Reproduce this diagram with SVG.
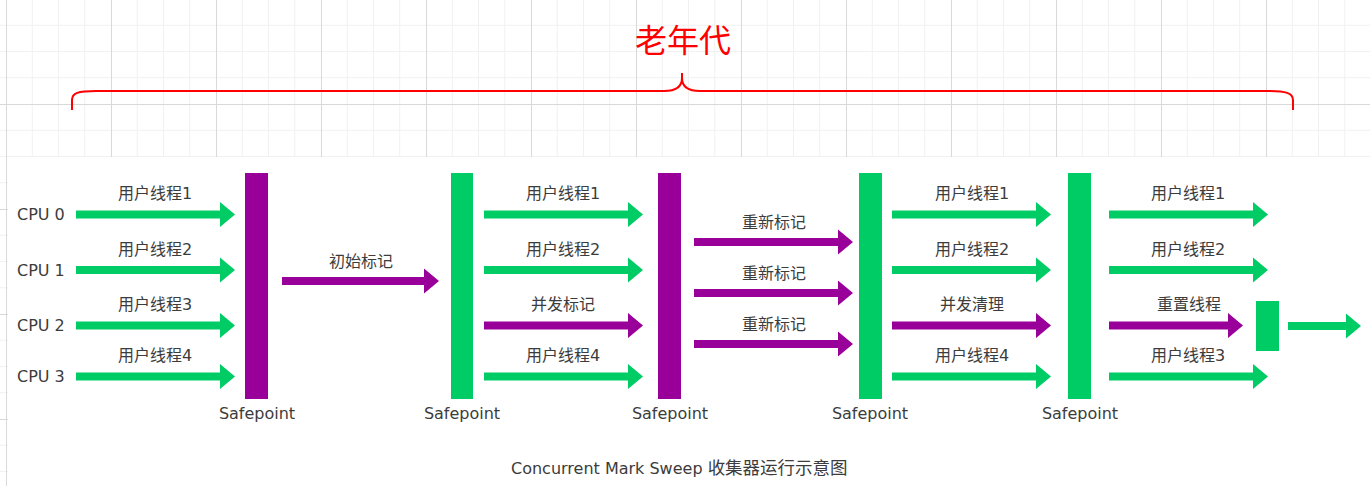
<svg xmlns="http://www.w3.org/2000/svg" xmlns:xlink="http://www.w3.org/1999/xlink" width="1370" height="486" viewBox="0 0 1370 486">
<style>
text{font-family:"DejaVu Sans","Noto Sans CJK SC",sans-serif;fill:#3c3c3c;}
.lbl{font-size:16px;text-anchor:middle;}
.cpu{font-size:16px;}
.sp{font-size:16px;text-anchor:middle;}
.g{fill:#00CC66;}
.p{fill:#990099;}
.title{font-size:16px;}
.cjk{font-size:17.5px;}
.old{font-size:32px;fill:#FF0000;text-anchor:middle;font-family:"Noto Sans CJK SC",sans-serif;}
</style>
<defs>
<pattern id="grid" x="6" y="-1" width="105" height="105" patternUnits="userSpaceOnUse">
<path d="M26.25 0V105M52.5 0V105M78.75 0V105M0 26.25H105M0 52.5H105M0 78.75H105" stroke="#f1f1f1" stroke-width="1" fill="none"/>
<path d="M0.5 0V105M0 0.5H105" stroke="#d9d9d9" stroke-width="1" fill="none"/>
</pattern>
<path id="a159" d="M0,-4H144V-12.5L159,0L144,12.5V4H0Z"/>
<path id="a157" d="M0,-4H142V-12.5L157,0L142,12.5V4H0Z"/>
<path id="a134" d="M0,-4H119V-12.5L134,0L119,12.5V4H0Z"/>
<path id="a73" d="M0,-4H58V-12.5L73,0L58,12.5V4H0Z"/>
</defs>
<rect x="0" y="0" width="1370" height="486" fill="#ffffff"/>
<rect x="0" y="0" width="1370" height="486" fill="url(#grid)"/>
<rect x="8" y="157" width="1362" height="329" fill="#ffffff"/>

<g id="old-gen">
<path d="M72,110V100C72,93 78,91 96,91H664Q682,91 682,78V73M682,78Q682,91 700,91H1267C1286,91 1293,93 1293,100V110" fill="none" stroke="#FF0000" stroke-width="2"/>
<text class="old" x="683" y="52">老年代</text>
</g>

<g id="cpus">
<text class="cpu" x="17" y="220">CPU 0</text>
<text class="cpu" x="17" y="275.5">CPU 1</text>
<text class="cpu" x="17" y="331">CPU 2</text>
<text class="cpu" x="17" y="382">CPU 3</text>
</g>

<g id="safepoint1"><rect class="p" x="245" y="173" width="23" height="226"/><text class="sp" x="257" y="419">Safepoint</text></g>
<g id="safepoint2"><rect class="g" x="451" y="173" width="22" height="226"/><text class="sp" x="462" y="419">Safepoint</text></g>
<g id="safepoint3"><rect class="p" x="658" y="173" width="23" height="226"/><text class="sp" x="670" y="419">Safepoint</text></g>
<g id="safepoint4"><rect class="g" x="859" y="173" width="23" height="226"/><text class="sp" x="870" y="419">Safepoint</text></g>
<g id="safepoint5"><rect class="g" x="1068" y="173" width="23" height="226"/><text class="sp" x="1080" y="419">Safepoint</text></g>
<g id="reset-block"><rect class="g" x="1256" y="301" width="23" height="50"/></g>

<g id="connectors">
<use xlink:href="#a159" class="g" x="76" y="214.5"/>
<use xlink:href="#a159" class="g" x="76" y="270"/>
<use xlink:href="#a159" class="g" x="76" y="325.5"/>
<use xlink:href="#a159" class="g" x="76" y="376.5"/>
<use xlink:href="#a157" class="p" x="282" y="281"/>
<use xlink:href="#a159" class="g" x="484" y="214.5"/>
<use xlink:href="#a159" class="g" x="484" y="270"/>
<use xlink:href="#a159" class="p" x="484" y="325.5"/>
<use xlink:href="#a159" class="g" x="484" y="376.5"/>
<use xlink:href="#a159" class="p" x="694" y="242"/>
<use xlink:href="#a159" class="p" x="694" y="293"/>
<use xlink:href="#a159" class="p" x="694" y="344"/>
<use xlink:href="#a159" class="g" x="892" y="214.5"/>
<use xlink:href="#a159" class="g" x="892" y="270"/>
<use xlink:href="#a159" class="p" x="892" y="325.5"/>
<use xlink:href="#a159" class="g" x="892" y="376.5"/>
<use xlink:href="#a159" class="g" x="1109" y="214.5"/>
<use xlink:href="#a159" class="g" x="1109" y="270"/>
<use xlink:href="#a134" class="p" x="1109" y="325.5"/>
<use xlink:href="#a159" class="g" x="1109" y="376.5"/>
<use xlink:href="#a73" class="g" x="1288" y="326"/>
</g>

<g id="labels">
<text class="lbl" x="155" y="199">用户线程1</text>
<text class="lbl" x="155" y="254.5">用户线程2</text>
<text class="lbl" x="155" y="310">用户线程3</text>
<text class="lbl" x="155" y="361">用户线程4</text>
<text class="lbl" x="361" y="267">初始标记</text>
<text class="lbl" x="563" y="199">用户线程1</text>
<text class="lbl" x="563" y="254.5">用户线程2</text>
<text class="lbl" x="563" y="310">并发标记</text>
<text class="lbl" x="563" y="361">用户线程4</text>
<text class="lbl" x="774" y="228">重新标记</text>
<text class="lbl" x="774" y="279">重新标记</text>
<text class="lbl" x="774" y="330">重新标记</text>
<text class="lbl" x="972" y="199">用户线程1</text>
<text class="lbl" x="972" y="254.5">用户线程2</text>
<text class="lbl" x="972" y="310">并发清理</text>
<text class="lbl" x="972" y="361">用户线程4</text>
<text class="lbl" x="1188" y="199">用户线程1</text>
<text class="lbl" x="1188" y="254.5">用户线程2</text>
<text class="lbl" x="1189" y="310">重置线程</text>
<text class="lbl" x="1188" y="361">用户线程3</text>
</g>

<text class="title" x="511" y="474">Concurrent Mark Sweep <tspan class="cjk">收集器运行示意图</tspan></text>
</svg>
